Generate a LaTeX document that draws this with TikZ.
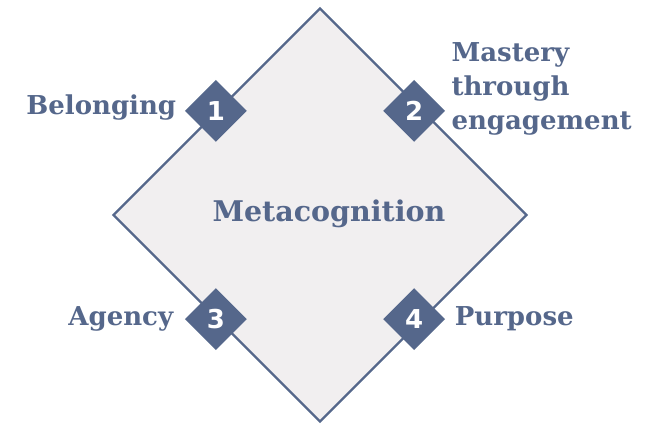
\documentclass[tikz,border=0pt]{standalone}
\usepackage{fontspec}
\setmainfont{DejaVu Serif}
\newfontfamily\digitfont{DejaVu Sans}
\usetikzlibrary{shapes.geometric,positioning}
\definecolor{slate}{HTML}{55678B}
\definecolor{paper}{HTML}{F1EFF0}

\begin{document}
\begin{tikzpicture}[x=1pt,y=1pt,font=\bfseries,
big/.style={diamond,draw=slate,line width=2.4pt,fill=paper,aspect=1,inner sep=0pt,minimum width=414pt,minimum height=414pt},
num/.style={diamond,fill=slate,text=white,aspect=1,inner sep=0pt,minimum width=62pt,minimum height=62pt,font=\digitfont\bfseries\fontsize{26}{26}\selectfont},
lbl/.style={text=slate,font=\bfseries\fontsize{26}{34}\selectfont,align=left}]
\useasboundingbox (0,0) rectangle (651,-424);
\node[big] (meta) at (320,-215) {};
\node[text=slate,font=\bfseries\fontsize{28.5}{30}\selectfont] (title) at (329,-214) {Metacognition};
% corner markers, the right pair sits a little inside the edge
\node[num] (n1) at (meta.north west) {1};
\node[num] (n2) at ([xshift=-10pt]meta.north east) {2};
\node[num] (n3) at (meta.south west) {3};
\node[num] (n4) at ([xshift=-10pt]meta.south east) {4};
\node[lbl,left=5pt of n1,yshift=3pt] (belong) {Belonging};
\node[lbl,anchor=west] (mastery) at (448,-89) {Mastery\\through\\engagement};
\node[lbl,left=8pt of n3] (agency) {Agency};
\node[lbl,right=6pt of n4] (purpose) {Purpose};
\end{tikzpicture}
\end{document}
